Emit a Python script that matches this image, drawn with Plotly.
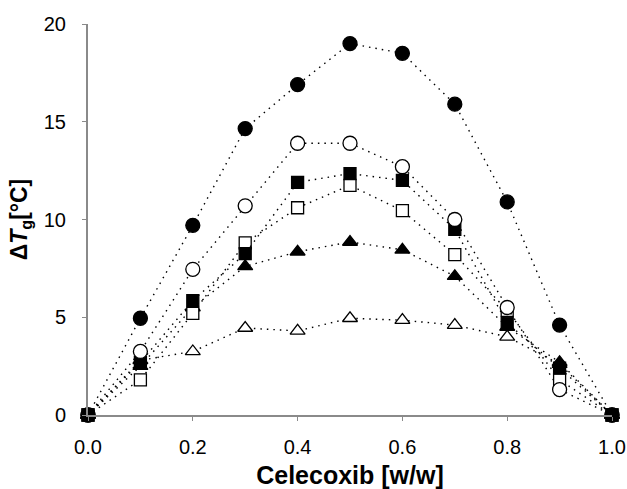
import plotly.graph_objects as go

x = [0.0, 0.1, 0.2, 0.3, 0.4, 0.5, 0.6, 0.7, 0.8, 0.9, 1.0]

filled_circle = [0, 4.95, 9.7, 14.65, 16.9, 19.0, 18.5, 15.9, 10.9, 4.6, 0]
open_circle = [0, 3.25, 7.45, 10.7, 13.9, 13.9, 12.7, 10.0, 5.5, 1.3, 0]
filled_square = [0, 2.7, 5.85, 8.25, 11.9, 12.35, 12.0, 9.5, 4.7, 2.4, 0]
open_square = [0, 1.8, 5.2, 8.8, 10.6, 11.75, 10.45, 8.2, 5.35, 1.8, 0]
filled_triangle = [0, 2.5, 5.5, 7.6, 8.35, 8.85, 8.45, 7.1, 4.5, 2.7, 0]
open_triangle = [0, 2.8, 3.25, 4.45, 4.3, 4.95, 4.85, 4.6, 4.0, 2.6, 0]

series = [
    (open_triangle, "triangle-up", "white", 13),
    (filled_triangle, "triangle-up", "black", 13),
    (open_square, "square", "white", 12),
    (filled_square, "square", "black", 12),
    (open_circle, "circle", "white", 14),
    (filled_circle, "circle", "black", 14),
]

fig = go.Figure()
for ys, sym, fill, sz in series:
    fig.add_trace(go.Scatter(
        x=x, y=ys, mode="lines+markers",
        line=dict(color="black", width=1.4, dash="1.5px,5px"),
        marker=dict(symbol=sym, size=sz, color=fill,
                    line=dict(color="black", width=1.3)),
        cliponaxis=False, showlegend=False,
    ))

fig.update_layout(
    width=627, height=489,
    margin=dict(l=88, r=15, t=24, b=74),
    plot_bgcolor="white", paper_bgcolor="white",
    font=dict(family="Liberation Sans, Arial, sans-serif", color="black", size=20),
)
fig.update_xaxes(
    range=[0, 1], tickvals=[0, 0.2, 0.4, 0.6, 0.8, 1.0], ticktext=["0.0", "0.2", "0.4", "0.6", "0.8", "1.0"],
    showgrid=False, zeroline=False, showline=True, linecolor="#8a8a8a", linewidth=2,
    ticks="outside", ticklen=4, tickcolor="#8a8a8a", tickwidth=1,
    ticklabelstandoff=9, automargin=False,
    title=dict(text="<b>Celecoxib [w/w]</b>", font=dict(size=25), standoff=12),
)
fig.update_yaxes(
    range=[0, 20], tickvals=[0, 5, 10, 15, 20],
    showgrid=False, zeroline=False, showline=True, linecolor="#8a8a8a", linewidth=2,
    ticks="outside", ticklen=4, tickcolor="#8a8a8a", tickwidth=1,
    ticklabelstandoff=12, automargin=False,
    title=dict(text="<b>Δ<i>T</i><sub>g</sub>[°C]</b>", font=dict(size=23), standoff=10),
)
fig.write_html("out.html")
